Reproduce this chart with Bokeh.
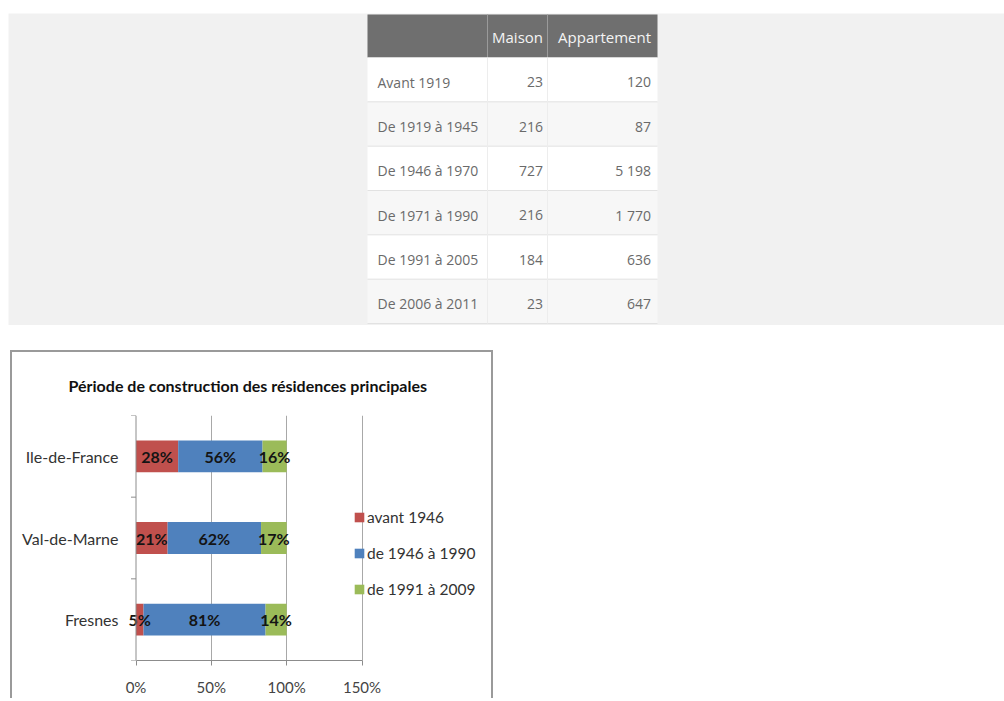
import numpy as np
from bokeh.plotting import figure
from bokeh.models import (ColumnDataSource, Range1d, FixedTicker,
                          NumeralTickFormatter, Legend, LegendItem, Span)
from bokeh.core.properties import value
from bokeh.embed import file_html
from bokeh.resources import INLINE

# ---------------- data ----------------
# table
table_headers = ["", "Maison", "Appartement"]
periods = ["Avant 1919", "De 1919 à 1945", "De 1946 à 1970",
           "De 1971 à 1990", "De 1991 à 2005", "De 2006 à 2011"]
maison = [23, 216, 727, 216, 184, 23]
appartement = [120, 87, 5198, 1770, 636, 647]

# chart
chart_title = "Période de construction des résidences principales"
regions = ["Ile-de-France", "Val-de-Marne", "Fresnes"]
avant_1946 = [28, 21, 5]
de_1946_a_1990 = [56, 62, 81]
de_1991_a_2009 = [16, 17, 14]
series_names = ["avant 1946", "de 1946 à 1990", "de 1991 à 2009"]
series_colors = ["#c0504d", "#4f81bd", "#9bbb59"]
x_ticks = [0, 50, 100, 150]


def fmt(v):
    return f"{v:,}".replace(",", " ")


# ---------------- top: table on gray band ----------------
TOP_X0, TOP_W = 8, 996
BAND_Y0, BAND_Y1 = 13, 325
TOP_H = BAND_Y1 - BAND_Y0
top = figure(width=TOP_W, height=TOP_H,
             x_range=Range1d(TOP_X0, TOP_X0 + TOP_W),
             y_range=Range1d(BAND_Y1, BAND_Y0), output_backend="svg",
             toolbar_location=None, min_border=0, x_axis_location=None,
             y_axis_location=None)
top.grid.visible = False
top.outline_line_color = None
top.background_fill_color = "#f1f1f1"
top.border_fill_color = "#f1f1f1"
top.styles = {"margin-left": f"{TOP_X0}px", "margin-top": f"{BAND_Y0}px"}

col_edges = [367, 487, 547, 657]
head_top, head_bot = 14, 57
body_bot = 323
nrows = len(periods)
rh = (body_bot - head_bot) / nrows

# header
top.quad(left=col_edges[0], right=col_edges[-1], top=head_top,
         bottom=head_bot, fill_color="#6f6f6f", line_color=None)
top.segment(x0=col_edges[1:3], x1=col_edges[1:3], y0=[head_top] * 2,
            y1=[head_bot] * 2, line_color="#9a9a9a", line_width=1)

# body rows
row_tops = [head_bot + rh * i for i in range(nrows)]
row_bots = [t + rh for t in row_tops]
row_fill = ["#ffffff" if i % 2 == 0 else "#f7f7f7" for i in range(nrows)]
top.quad(left=col_edges[0], right=col_edges[-1], top=row_tops,
         bottom=row_bots, fill_color=row_fill, line_color=None)
top.segment(x0=[col_edges[0]] * nrows, x1=[col_edges[-1]] * nrows,
            y0=row_bots, y1=row_bots, line_color="#e2e2e2", line_width=1)
top.segment(x0=col_edges[1:3], x1=col_edges[1:3], y0=[head_bot] * 2,
            y1=[body_bot] * 2, line_color="#ededed", line_width=1)

row_mid = [t + rh / 2 + 2.5 for t in row_tops]
head_mid = (head_top + head_bot) / 2 + 1
right_pad = 4.5

top.text(x=[col_edges[2] - right_pad, col_edges[3] - right_pad - 2],
         y=[head_mid, head_mid], text=table_headers[1:],
         text_align="right", text_baseline="middle",
         text_font=value("Open Sans"), text_font_size="15px",
         text_color="#f4f4f4")

tsrc = ColumnDataSource(dict(
    y=row_mid,
    lab=periods,
    m=[fmt(v) for v in maison],
    a=[fmt(v) for v in appartement],
))
common = dict(y="y", source=tsrc, text_baseline="middle",
              text_font=value("Open Sans"), text_font_size="14px",
              text_color="#6a6a6a")
top.text(x=col_edges[0] + 10, text="lab", text_align="left", **common)
top.text(x=col_edges[2] - right_pad, text="m", text_align="right", **common)
top.text(x=col_edges[3] - right_pad - 2, text="a", text_align="right",
         **common)

# ---------------- bottom: stacked bar chart ----------------
CH_W, CH_H = 483, 348
BORDER_L, BORDER_R = 116, 8
FRAME_W = CH_W - BORDER_L - BORDER_R
PX_PER_UNIT = 226 / 1.5          # 0% .. 150% spans 226 px
X_START = -7.5 / PX_PER_UNIT     # a little room left of 0% for labels
X_END = X_START + FRAME_W / PX_PER_UNIT   # frame also hosts the legend

n = len(regions)
ypos = [n - 0.5 - i for i in range(n)]

a = np.array(avant_1946) / 100
b = np.array(de_1946_a_1990) / 100
c = np.array(de_1991_a_2009) / 100
src = ColumnDataSource(dict(y=ypos, a=a, b=b, c=c))

p = figure(width=CH_W, height=CH_H, x_range=Range1d(X_START, X_END),
           y_range=Range1d(0, n), output_backend="svg",
           toolbar_location=None, title=chart_title,
           min_border_left=BORDER_L, min_border_right=BORDER_R,
           min_border_top=63, min_border_bottom=40)
p.outline_line_color = None
p.background_fill_color = "white"
p.styles = {"margin-left": "10px", "margin-top": "25px",
            "border-top": "2px solid #9a9a9a",
            "border-left": "2px solid #9a9a9a",
            "border-right": "2px solid #9a9a9a"}

rs = p.hbar_stack(["a", "b", "c"], y="y", height=0.39,
                  fill_color=series_colors, line_color=None, source=src)

# data labels
vals = np.vstack([a, b, c])
cum = np.cumsum(vals, axis=0)
centers = cum - vals / 2
lx, ly, lt = [], [], []
for si, series in enumerate([avant_1946, de_1946_a_1990, de_1991_a_2009]):
    for ri in range(n):
        lx.append(centers[si, ri])
        ly.append(ypos[ri])
        lt.append(f"{series[ri]}%")
lsrc = ColumnDataSource(dict(x=lx, y=ly, t=lt))
p.text(x="x", y="y", text="t", source=lsrc, text_align="center",
       text_baseline="middle", text_font=value("Lato"),
       text_font_style="bold", text_font_size="16px", text_color="#141414")

# title
p.title.text_font = "Lato"
p.title.text_font_size = "16px"
p.title.text_font_style = "bold"
p.title.text_color = "#111111"
p.title.align = "left"
p.title.offset = -60
p.title.standoff = 41

AX = "#8c8c8c"
# x axis
xt = [t / 100 for t in x_ticks]
p.xaxis.ticker = FixedTicker(ticks=xt)
p.xaxis.bounds = (0, 1.5)
p.xaxis.formatter = NumeralTickFormatter(format="0%")
p.xaxis.major_tick_out = 5
p.xaxis.major_tick_in = 0
p.xaxis.minor_tick_line_color = None
p.xaxis.axis_line_color = AX
p.xaxis.major_tick_line_color = AX
p.xaxis.major_label_standoff = 12
p.xaxis.major_label_text_font = "Lato"
p.xaxis.major_label_text_font_size = "15px"
p.xaxis.major_label_text_color = "#444444"
p.xgrid.ticker = FixedTicker(ticks=xt[1:])
p.xgrid.grid_line_color = "#a8a8a8"
p.ygrid.visible = False

# vertical axis line at 0% and boundary ticks
p.add_layout(Span(location=0, dimension="height", line_color=AX,
                  line_width=1))
tick_len = 5 / PX_PER_UNIT
bounds_y = list(range(n + 1))
p.segment(x0=[-tick_len] * len(bounds_y), x1=[0] * len(bounds_y),
          y0=bounds_y, y1=bounds_y, line_color=AX, line_width=1)

# y axis (category labels only)
p.yaxis.ticker = FixedTicker(ticks=ypos)
p.yaxis.major_label_overrides = {y: r for y, r in zip(ypos, regions)}
p.yaxis.major_tick_out = 0
p.yaxis.major_tick_in = 0
p.yaxis.minor_tick_line_color = None
p.yaxis.major_tick_line_color = None
p.yaxis.axis_line_color = None
p.yaxis.major_label_standoff = 10
p.yaxis.major_label_text_font = "Lato"
p.yaxis.major_label_text_font_size = "16px"
p.yaxis.major_label_text_color = "#333333"

# legend (inside the widened frame, right of the 150% line)
lg = Legend(items=[LegendItem(label=nm, renderers=[r])
                   for nm, r in zip(series_names, rs)],
            location=(225, 61), orientation="vertical")
lg.background_fill_alpha = 0
lg.border_line_color = None
lg.padding = 0
lg.margin = 0
lg.spacing = 16
lg.label_height = 20
lg.glyph_width = 12
lg.glyph_height = 12
lg.label_standoff = 2
lg.label_text_font = "Lato"
lg.label_text_font_size = "15.5px"
lg.label_text_color = "#333333"
p.add_layout(lg)

open("out.html", "w").write(file_html([top, p], INLINE))
